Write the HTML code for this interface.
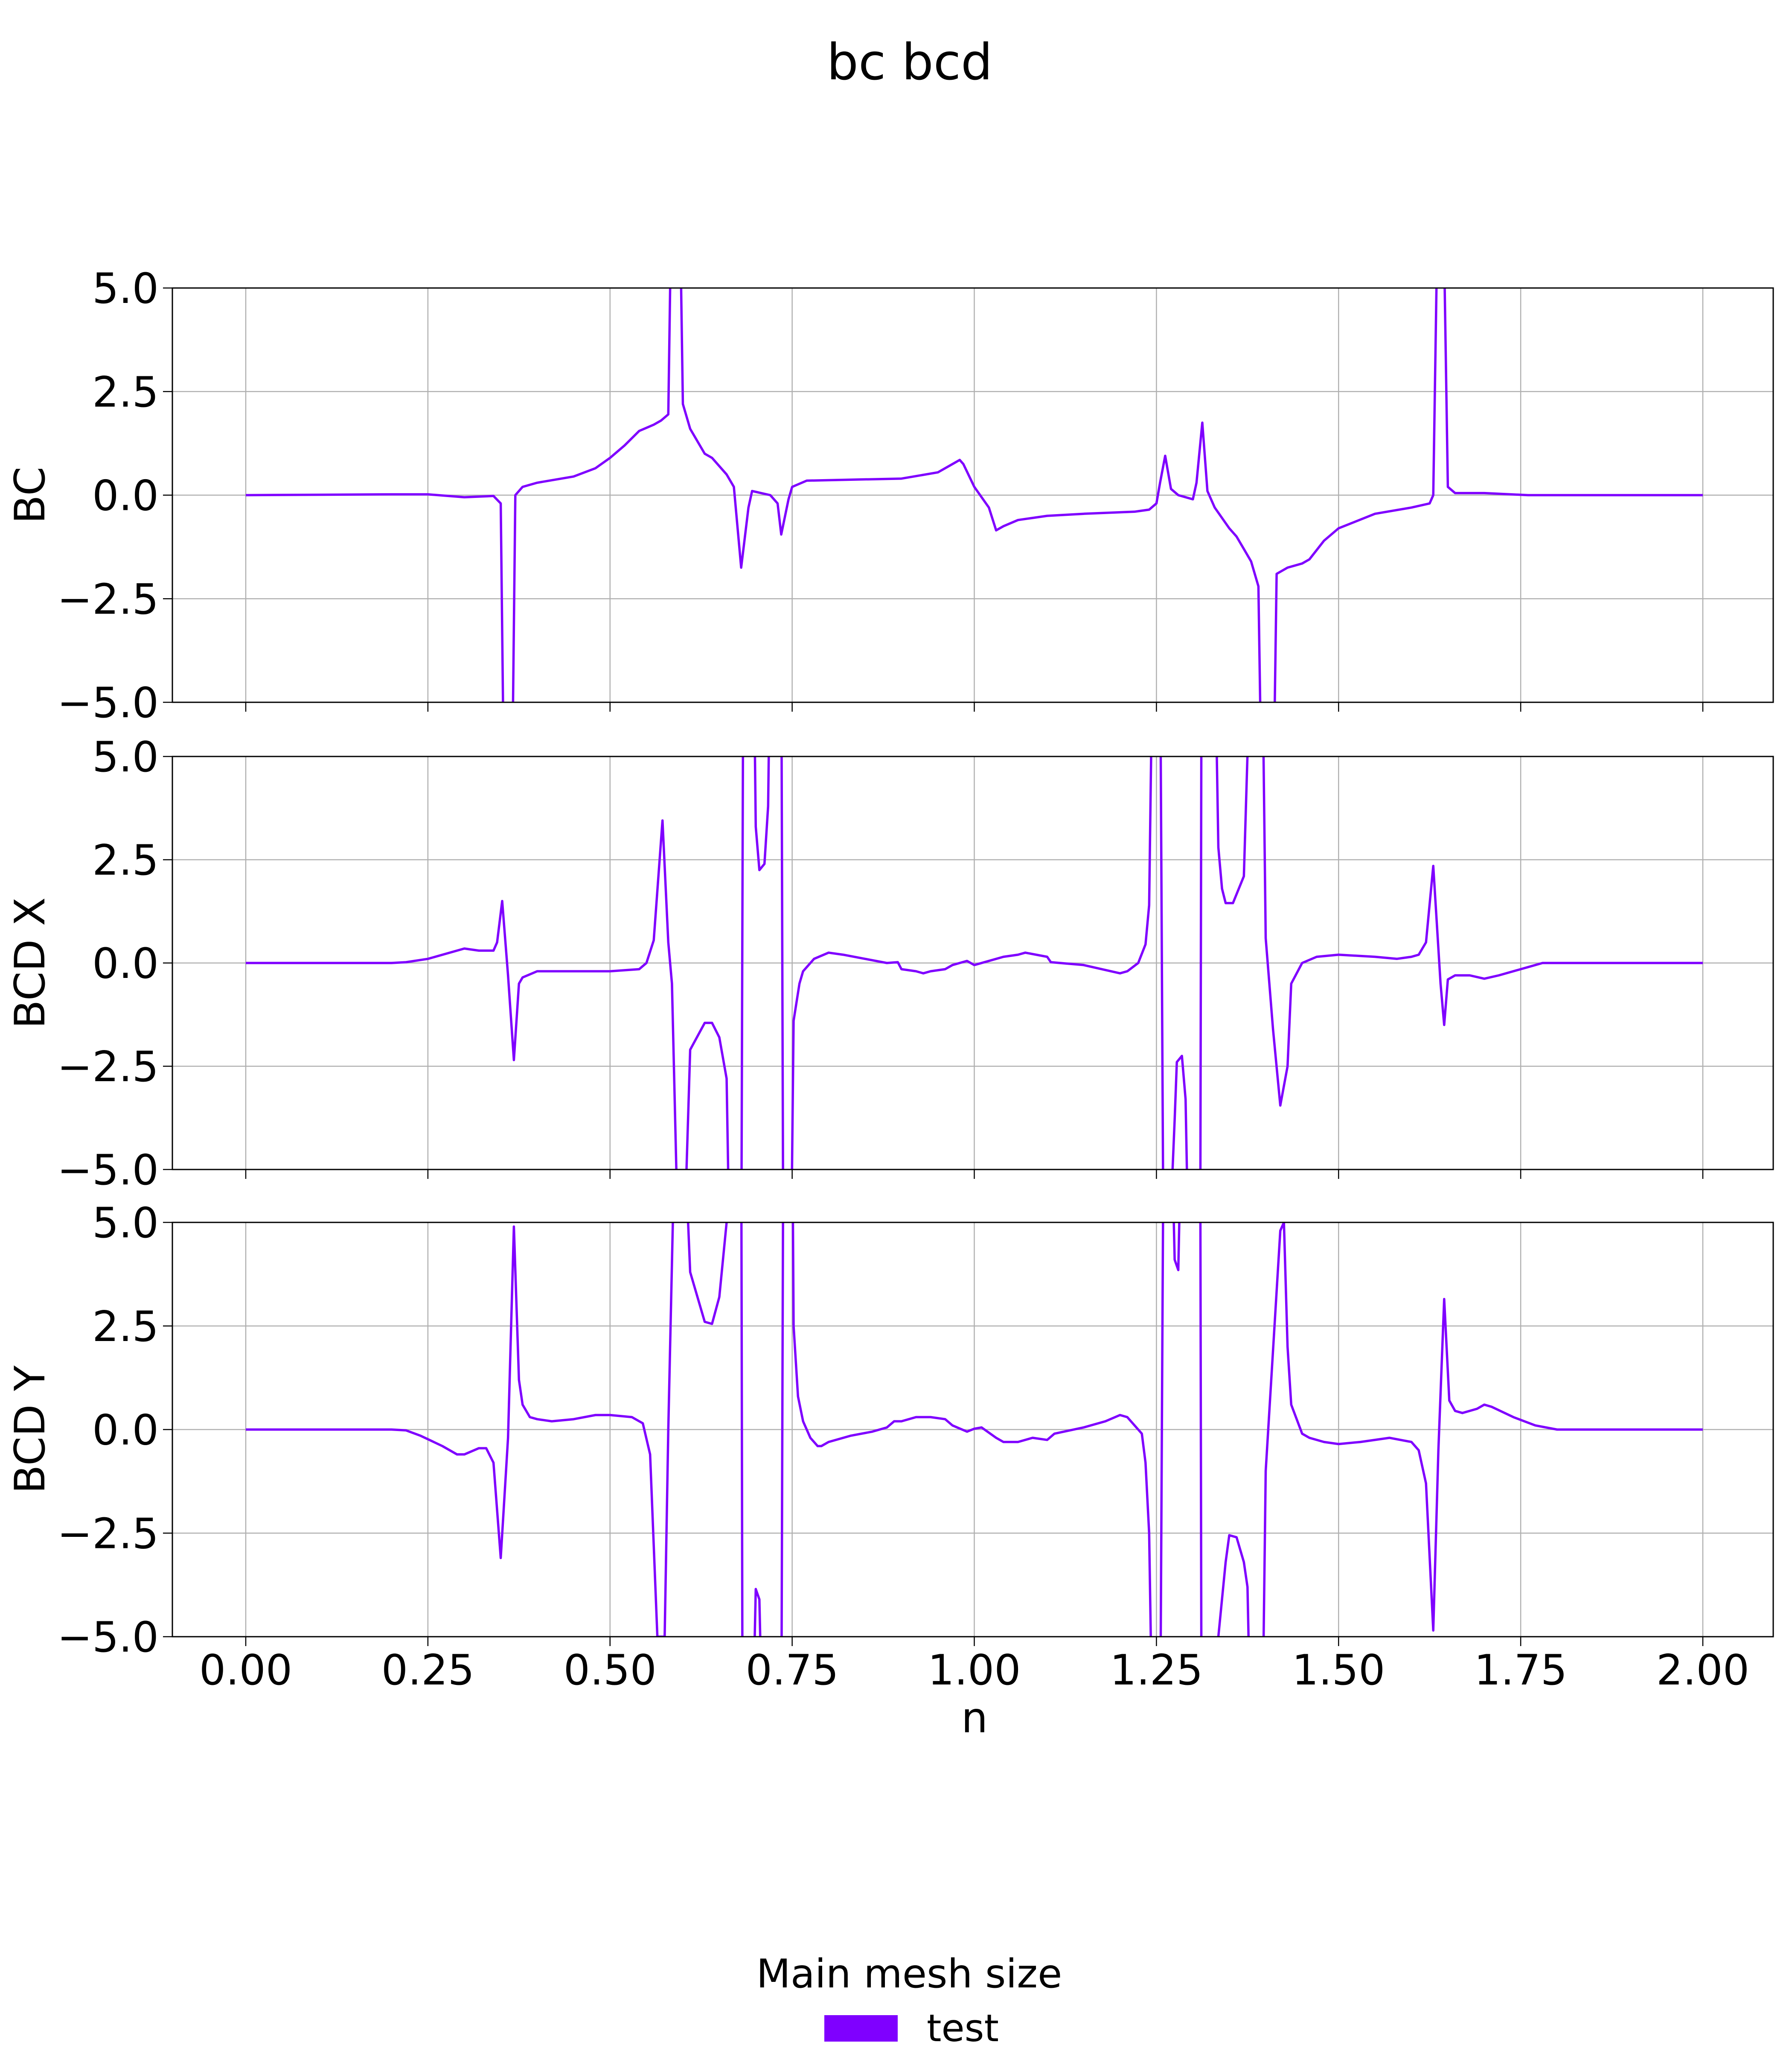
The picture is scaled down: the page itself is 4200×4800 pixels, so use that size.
<!DOCTYPE html>
<html><head><meta charset="utf-8"><style>
html,body{margin:0;padding:0;background:#fff;}
svg{display:block;font-family:"DejaVu Sans","Liberation Sans",sans-serif;}
</style></head><body>
<svg id="fig" width="4200" height="4800" viewBox="0 0 4200 4800">
<text x="2132" y="186" font-size="117" text-anchor="middle">bc bcd</text>
<g id="plots"></g>
<text x="2131" y="4658" font-size="93" text-anchor="middle">Main mesh size</text>
<rect x="1932" y="4723" width="172" height="62" fill="#7f00ff"/>
<text x="2172" y="4784" font-size="88">test</text>
</svg>
<script>
const xTicks=[0,0.25,0.5,0.75,1.0,1.25,1.5,1.75,2.0];
const xTickLabels=["0.00","0.25","0.50","0.75","1.00","1.25","1.50","1.75","2.00"];
const yTicks=[-5,-2.5,0,2.5,5];
const yTickLabels=["\u22125.0","\u22122.5","0.0","2.5","5.0"];
const panelTitles=["BC","BCD X","BCD Y"];
const bcX=[0,0.2,0.25,0.3,0.34,0.35,0.355,0.365,0.37,0.38,0.4,0.45,0.48,0.5,0.52,0.54,0.56,0.57,0.58,0.585,0.595,0.6,0.61,0.63,0.64,0.66,0.67,0.68,0.69,0.695,0.72,0.73,0.735,0.745,0.75,0.77,0.9,0.95,0.97,0.98,0.985,1.0,1.02,1.03,1.04,1.06,1.1,1.15,1.22,1.24,1.25,1.255,1.262,1.27,1.28,1.3,1.305,1.313,1.32,1.33,1.35,1.36,1.37,1.38,1.39,1.395,1.41,1.415,1.43,1.45,1.46,1.48,1.5,1.55,1.6,1.625,1.63,1.637,1.643,1.65,1.66,1.7,1.76,2.0];
const bcY=[0,0.02,0.02,-0.05,-0.02,-0.2,-8,-8,0,0.2,0.3,0.45,0.65,0.9,1.2,1.55,1.7,1.8,1.95,8,8,2.2,1.6,1.0,0.9,0.5,0.2,-1.75,-0.3,0.1,0.0,-0.2,-0.95,-0.1,0.2,0.35,0.4,0.55,0.75,0.85,0.75,0.2,-0.3,-0.85,-0.75,-0.6,-0.5,-0.45,-0.4,-0.35,-0.2,0.3,0.95,0.15,0.0,-0.1,0.3,1.75,0.1,-0.3,-0.8,-1.0,-1.3,-1.6,-2.2,-8,-8,-1.9,-1.75,-1.65,-1.55,-1.1,-0.8,-0.45,-0.3,-0.2,0.0,8,8,0.2,0.05,0.05,0,0];
const bxX=[0,0.2,0.22,0.25,0.3,0.32,0.34,0.345,0.352,0.36,0.368,0.375,0.38,0.4,0.45,0.5,0.54,0.55,0.56,0.572,0.58,0.585,0.595,0.605,0.61,0.63,0.64,0.65,0.66,0.665,0.68,0.683,0.697,0.7,0.705,0.712,0.717,0.72,0.735,0.738,0.748,0.752,0.76,0.765,0.78,0.8,0.82,0.85,0.88,0.895,0.9,0.92,0.93,0.94,0.96,0.97,0.98,0.99,1.0,1.02,1.04,1.06,1.07,1.1,1.105,1.15,1.2,1.21,1.225,1.235,1.24,1.245,1.255,1.26,1.265,1.275,1.278,1.285,1.29,1.295,1.31,1.312,1.33,1.335,1.34,1.345,1.355,1.37,1.38,1.395,1.4,1.41,1.42,1.43,1.435,1.45,1.47,1.5,1.55,1.58,1.6,1.61,1.62,1.63,1.64,1.645,1.65,1.66,1.68,1.7,1.72,1.76,1.78,2.0];
const bxY=[0,0,0.02,0.1,0.35,0.3,0.3,0.5,1.5,-0.3,-2.35,-0.5,-0.35,-0.2,-0.2,-0.2,-0.15,0.0,0.55,3.45,0.5,-0.5,-8,-5,-2.1,-1.45,-1.45,-1.8,-2.8,-8,-8,8,8,3.3,2.25,2.4,3.8,8,8,-8,-8,-1.4,-0.5,-0.2,0.1,0.25,0.2,0.1,0.0,0.02,-0.15,-0.2,-0.25,-0.2,-0.15,-0.05,0.0,0.05,-0.05,0.05,0.15,0.2,0.25,0.15,0.02,-0.05,-0.25,-0.2,0.0,0.45,1.4,8,8,-8,-8,-3.8,-2.4,-2.25,-3.3,-8,-8,8,8,2.8,1.8,1.45,1.45,2.1,8,8,0.6,-1.6,-3.45,-2.5,-0.5,0.0,0.15,0.2,0.15,0.1,0.15,0.2,0.5,2.35,-0.5,-1.5,-0.4,-0.3,-0.3,-0.38,-0.3,-0.1,0.0,0];
const byX=[0,0.2,0.22,0.24,0.27,0.29,0.3,0.32,0.33,0.34,0.35,0.36,0.368,0.375,0.38,0.39,0.4,0.42,0.45,0.48,0.5,0.53,0.545,0.555,0.565,0.575,0.58,0.59,0.6,0.61,0.63,0.64,0.65,0.66,0.67,0.68,0.682,0.695,0.7,0.705,0.71,0.735,0.738,0.75,0.752,0.758,0.765,0.775,0.785,0.79,0.8,0.83,0.86,0.88,0.89,0.9,0.92,0.94,0.96,0.97,0.99,1.0,1.01,1.03,1.04,1.06,1.08,1.1,1.11,1.15,1.18,1.2,1.21,1.23,1.235,1.24,1.245,1.255,1.26,1.27,1.275,1.28,1.285,1.31,1.312,1.325,1.335,1.345,1.35,1.36,1.37,1.375,1.38,1.395,1.4,1.42,1.425,1.43,1.435,1.45,1.46,1.48,1.5,1.53,1.57,1.6,1.61,1.62,1.63,1.637,1.645,1.652,1.66,1.67,1.69,1.7,1.71,1.74,1.77,1.8,2.0];
const byY=[0,0,-0.02,-0.15,-0.4,-0.6,-0.6,-0.45,-0.45,-0.8,-3.1,-0.2,4.9,1.2,0.6,0.3,0.25,0.2,0.25,0.35,0.35,0.3,0.15,-0.6,-5,-5,0,8,8,3.8,2.6,2.55,3.2,5,8,8,-8,-8,-3.85,-4.1,-8,-8,8,8,2.5,0.8,0.2,-0.2,-0.4,-0.4,-0.3,-0.15,-0.05,0.05,0.2,0.2,0.3,0.3,0.25,0.1,-0.05,0.02,0.05,-0.2,-0.3,-0.3,-0.2,-0.25,-0.1,0.05,0.2,0.35,0.3,-0.1,-0.8,-2.5,-8,-8,8,8,4.1,3.85,8,8,-8,-8,-5,-3.2,-2.55,-2.6,-3.2,-3.8,-8,-8,-1,4.8,5,2,0.6,-0.1,-0.2,-0.3,-0.35,-0.3,-0.2,-0.3,-0.5,-1.3,-4.85,-0.5,3.15,0.7,0.45,0.4,0.5,0.6,0.55,0.3,0.1,0.0,0];
const seriesX=[bcX,bxX,byX];
const seriesY=[bcY,bxY,byY];
const NS="http://www.w3.org/2000/svg";
const L=404,R=4156,X0=576,X2=3991;
const panels=[[675,1646],[1773,2741],[2865,3836]];
const sx=v=>X0+(X2-X0)*v/2;
const g=document.getElementById('plots');
function mk(t,a,p){const e=document.createElementNS(NS,t);for(const k in a)e.setAttribute(k,a[k]);(p||g).appendChild(e);return e;}
panels.forEach((pp,i)=>{
  const T=pp[0],B=pp[1];
  const sy=v=>B-(B-T)*(v+5)/10;
  const pg=mk('g',{});
  
  
  const cp=mk('clipPath',{id:'c'+i},pg);mk('rect',{x:L,y:T,width:R-L,height:B-T},cp);
  xTicks.forEach((v,j)=>{
    const gl=mk('line',{x1:sx(v),x2:sx(v),y1:T,y2:B,stroke:'#b0b0b0','stroke-width':2.5},pg);
    
    
    mk('line',{x1:sx(v),x2:sx(v),y1:B,y2:B+22,stroke:'#000','stroke-width':2.5},pg);
    if(i==2){const t=mk('text',{x:sx(v),y:3948,'font-size':98,'text-anchor':'middle'},pg);t.textContent=xTickLabels[j];
      
      }
  });
  yTicks.forEach((v,j)=>{
    const gl=mk('line',{x1:L,x2:R,y1:sy(v),y2:sy(v),stroke:'#b0b0b0','stroke-width':2.5},pg);
    
    
    mk('line',{x1:L-22,x2:L,y1:sy(v),y2:sy(v),stroke:'#000','stroke-width':2.5},pg);
    const t=mk('text',{x:L-32,y:sy(v)+35,'font-size':98,'text-anchor':'end'},pg);t.textContent=yTickLabels[j];
    
    
  });
  const d=seriesX[i].map((v,k)=>(k?'L':'M')+sx(v).toFixed(1)+' '+sy(seriesY[i][k]).toFixed(1)).join('');
  const ln=mk('path',{d:d,fill:'none',stroke:'#7f00ff','stroke-width':5.5,'stroke-linejoin':'round','clip-path':'url(#c'+i+')'},pg);
  
  
  const fr=mk('rect',{x:L,y:T,width:R-L,height:B-T,fill:'none',stroke:'#000','stroke-width':3},pg);
  
  
  const cy=(T+B)/2;
  const yl=mk('text',{x:0,y:0,'font-size':98,'text-anchor':'middle',transform:'translate(104,'+cy+') rotate(-90)'},pg);
  yl.textContent=panelTitles[i];
  
  
});
const xl=mk('text',{x:2284,y:4060,'font-size':98,'text-anchor':'middle'});
xl.textContent='n';


</script>
</body></html>
